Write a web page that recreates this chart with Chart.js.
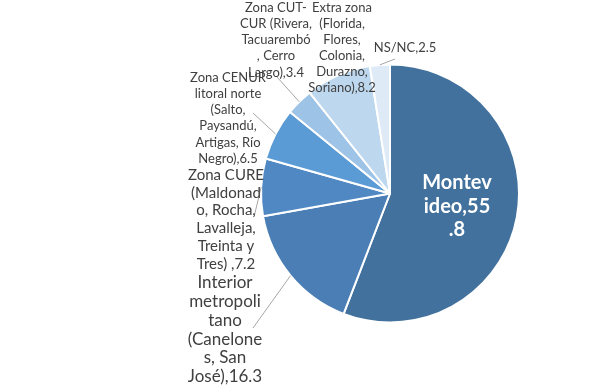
<!DOCTYPE html>
<html>
<head>
<meta charset="utf-8">
<script src="https://cdn.jsdelivr.net/npm/chart.js@4/dist/chart.umd.min.js"></script>
<style>
    html, body { margin: 0; padding: 0; background: #fff; }
    #wrap { width: 600px; height: 385px; }
</style>
</head>
<body>
<div id="wrap"><canvas id="pieChart" width="600" height="385"></canvas></div>
<script>
const zones = ['Montevideo', 'Interior metropolitano (Canelones, San José)', 'Zona CURE (Maldonado, Rocha, Lavalleja, Treinta y Tres) ', 'Zona CENUR litoral norte (Salto, Paysandú, Artigas, Río Negro)', 'Zona CUT-CUR (Rivera, Tacuarembó, Cerro Largo)', 'Extra zona (Florida, Flores, Colonia, Durazno, Soriano)', 'NS/NC'];
const shares = [55.8, 16.3, 7.2, 6.5, 3.4, 8.2, 2.5];
// label text as wrapped in the original
const labelLines = [
    ['Montev', 'ideo,55', '.8'],
    ['Interior', 'metropoli', 'tano', '(Canelone', 's, San', 'José),16.3'],
    ['Zona CURE', '(Maldonad', 'o, Rocha,', 'Lavalleja,', 'Treinta y', 'Tres) ,7.2'],
    ['Zona CENUR', 'litoral norte', '(Salto,', 'Paysandú,', 'Artigas, Río', 'Negro),6.5'],
    ['Zona CUT-', 'CUR (Rivera,', 'Tacuarembó', ', Cerro', 'Largo),3.4'],
    ['Extra zona', '(Florida,', 'Flores,', 'Colonia,', 'Durazno,', 'Soriano),8.2'],
    ['NS/NC,2.5']
];
const colors = ['#41719c', '#4a7eb5', '#5088c3', '#5b9bd5', '#9dc3e6', '#bdd7ee', '#deebf7'];

// label placement: block centre x, first line y, font size, line height, leader end point
const labelStyle = [
    { x: 457, y: 183, size: 20, lh: 23.5, bold: true, color: '#ffffff' },
    { x: 225, y: 283, size: 17, lh: 18.7, color: '#404040', lead: [253, 328] },
    { x: 226, y: 175, size: 15, lh: 17.8, color: '#404040', lead: [254, 217] },
    { x: 228, y: 78, size: 13, lh: 16.1, color: '#404040', lead: [253, 113] },
    { x: 276, y: 8, size: 13, lh: 16.1, color: '#404040', lead: [277, 77] },
    { x: 342, y: 8, size: 13, lh: 16, color: '#404040' },
    { x: 405, y: 48, size: 13, lh: 16, color: '#404040', lead: [395, 59] }
];

const pieLabels = {
    id: 'pieLabels',
    afterDatasetsDraw(chart) {
        const ctx = chart.ctx;
        const arcs = chart.getDatasetMeta(0).data;
        ctx.save();
        arcs.forEach((arc, i) => {
            const st = labelStyle[i];
            if (st.lead) {
                const mid = (arc.startAngle + arc.endAngle) / 2;
                const sx = arc.x + Math.cos(mid) * arc.outerRadius;
                const sy = arc.y + Math.sin(mid) * arc.outerRadius;
                ctx.strokeStyle = '#a6a6a6';
                ctx.lineWidth = 1;
                ctx.beginPath();
                ctx.moveTo(sx, sy);
                ctx.lineTo(st.lead[0], st.lead[1]);
                ctx.stroke();
            }
            ctx.fillStyle = st.color;
            ctx.font = (st.bold ? 'bold ' : '') + st.size + 'px Lato, "Liberation Sans", sans-serif';
            ctx.textAlign = 'center';
            ctx.textBaseline = 'middle';
            labelLines[i].forEach((line, k) => {
                ctx.fillText(line, st.x, st.y + k * st.lh);
            });
        });
        ctx.restore();
    }
};

const ctx = document.getElementById('pieChart').getContext('2d');
window.pieChart = new Chart(ctx, {
    type: 'pie',
    data: {
        labels: zones,
        datasets: [{
            data: shares,
            backgroundColor: colors,
            borderColor: '#ffffff',
            borderWidth: 2
        }]
    },
    options: {
        responsive: false,
        animation: false,
        layout: {
            padding: { left: 260, right: 80, top: 63, bottom: 61 }
        },
        plugins: {
            legend: { display: false },
            tooltip: { enabled: false }
        }
    },
    plugins: [pieLabels]
});
</script>
</body>
</html>
